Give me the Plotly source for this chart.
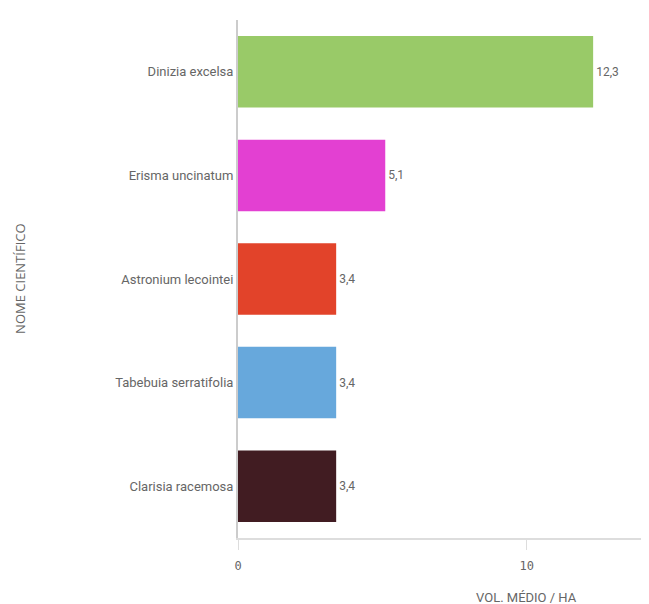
import plotly.graph_objects as go

species = ["Dinizia excelsa", "Erisma uncinatum", "Astronium lecointei",
           "Tabebuia serratifolia", "Clarisia racemosa"]
volumes = [12.3, 5.1, 3.4, 3.4, 3.4]
colors = ["#99CA68", "#E340D2", "#E2432A", "#67A8DC", "#411C22"]
x_ticks = [0, 10]

labels = [f"{v:.1f}".replace(".", ",") for v in volumes]

fig = go.Figure(go.Bar(
    x=volumes, y=species, orientation="h",
    marker=dict(color=colors, line=dict(width=0)),
    text=labels, textposition="outside", cliponaxis=False,
    textfont=dict(family="Roboto", size=12, color="#666666"),
    hoverinfo="skip",
))

fig.update_layout(
    width=641, height=596,
    margin=dict(l=230, r=1, t=12, b=66, autoexpand=False),
    paper_bgcolor="white", plot_bgcolor="white",
    bargap=0.31, showlegend=False,
    font=dict(family="Roboto", color="#666666"),
)
fig.update_yaxes(
    categoryorder="array", categoryarray=species[::-1],
    showline=True, linecolor="#CCCCCC", linewidth=2,
    showgrid=False, ticks="", ticklabelstandoff=0,
    tickfont=dict(family="Roboto", size=13, color="#666666"),
    zeroline=False,
)
fig.update_xaxes(
    range=[0, 14.2], tickvals=x_ticks, ticktext=[str(t) for t in x_ticks],
    showline=True, linecolor="#DDDDDD", linewidth=2,
    showgrid=False, zeroline=False,
    ticks="outside", ticklen=10, tickcolor="#DDDDDD", tickwidth=1,
    ticklabelstandoff=6,
    tickfont=dict(family="DejaVu Sans Mono", size=12, color="#666666"),
)
fig.add_annotation(text="NOME CIENTÍFICO", textangle=-90, xref="paper", yref="paper",
                   x=-0.532, y=0.5, xanchor="center", yanchor="middle", showarrow=False,
                   font=dict(family="Open Sans", size=13, color="#666666"))
fig.add_annotation(text="VOL. MÉDIO / HA", xref="x", yref="paper",
                   x=10, y=-0.115, xanchor="center", yanchor="middle", showarrow=False,
                   font=dict(family="Roboto", size=13, color="#666666"))
fig.add_annotation(text="VOLUME MÉDIO POR HECTARE (m³)", xref="paper", yref="paper",
                   x=0.561, y=1.0, yshift=12, xanchor="right", yanchor="bottom", showarrow=False,
                   font=dict(family="Open Sans", size=16, color="#595959"))

fig.write_html("out.html")
